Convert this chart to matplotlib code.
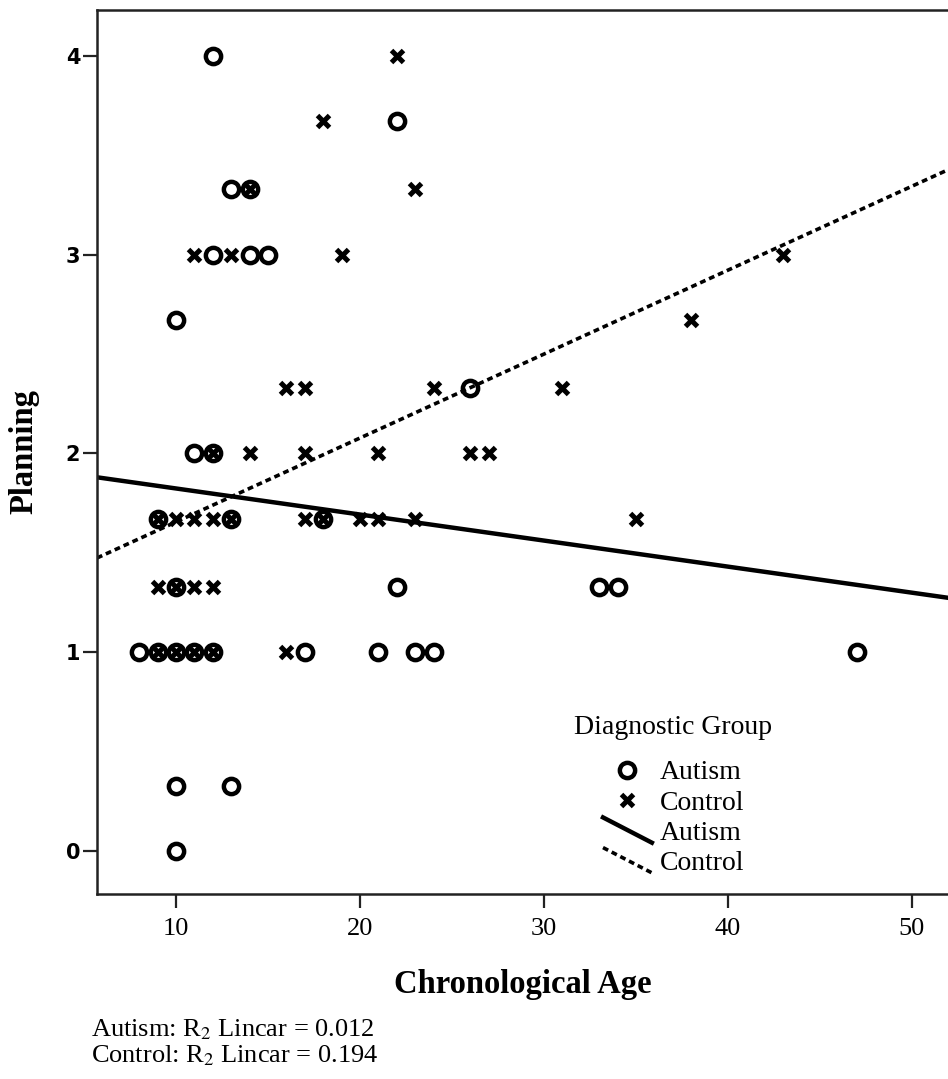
import numpy as np
import matplotlib
matplotlib.use('Agg')
import matplotlib.pyplot as plt
from matplotlib.lines import Line2D
from matplotlib.legend_handler import HandlerBase

# autism group (circles)
autism_age = [12, 22, 13, 14, 12, 14, 15, 10, 26, 11, 12, 9, 13, 18, 10, 22, 33, 34,
              8, 9, 10, 11, 12, 17, 21, 23, 24, 47, 10, 13, 10]
autism_planning = [4, 3.67, 3.33, 3.33, 3, 3, 3, 2.67, 2.33, 2, 2, 1.67, 1.67, 1.67,
                   1.33, 1.33, 1.33, 1.33, 1, 1, 1, 1, 1, 1, 1, 1, 1, 1, 0.33, 0.33, 0]

# control group (crosses)
control_age = [22, 18, 23, 14, 11, 13, 19, 43, 38, 16, 17, 24, 31, 12, 14, 17, 21, 26, 27,
               9, 10, 11, 12, 13, 17, 18, 20, 21, 23, 35, 9, 10, 11, 12, 9, 10, 11, 12, 16]
control_planning = [4, 3.67, 3.33, 3.33, 3, 3, 3, 3, 2.67, 2.33, 2.33, 2.33, 2.33,
                    2, 2, 2, 2, 2, 2, 1.67, 1.67, 1.67, 1.67, 1.67, 1.67, 1.67, 1.67,
                    1.67, 1.67, 1.67, 1.33, 1.33, 1.33, 1.33, 1, 1, 1, 1, 1]

# linear fits (intercept, slope)
autism_fit = (1.955, -0.0131)
control_fit = (1.234, 0.0422)
r2_text = ['Autism: R$_2$ Lincar = 0.012', 'Control: R$_2$ Lincar = 0.194']

serif = 'Liberation Serif'
plt.rcParams['mathtext.fontset'] = 'stix'
DOTS = (0, (1.6, 1.1))

class SlantHandler(HandlerBase):
    def __init__(self, ls):
        super().__init__()
        self.ls = ls

    def create_artists(self, legend, orig_handle, xdescent, ydescent, width, height, fontsize, trans):
        ln = Line2D([-xdescent, width - xdescent], [height * 1.15 - ydescent, -0.15 * height - ydescent],
                    color='black', lw=orig_handle.get_linewidth(), linestyle=self.ls, transform=trans)
        return [ln]

fig = plt.figure(figsize=(9.48, 10.79), dpi=100)
ax = fig.add_axes([0.1023, 0.1715, 0.8977, 0.8192])

ax.plot(autism_age, autism_planning, 'o', ms=11, mfc='none', mec='black', mew=3.2, zorder=3)
ax.plot(control_age, control_planning, 'x', ms=9, mec='black', mew=3.6, zorder=3)

ax.set_xlim(5.7, 51.96)
ax.set_ylim(-0.215, 4.23)
xx = np.array(ax.get_xlim())
ax.plot(xx, autism_fit[0] + autism_fit[1] * xx, color='black', lw=3.2, zorder=2)
ax.plot(xx, control_fit[0] + control_fit[1] * xx, color='black', lw=2.6, linestyle=DOTS, zorder=2)

ax.spines['right'].set_visible(False)
for s in ['left', 'bottom', 'top']:
    ax.spines[s].set_linewidth(1.8)
    ax.spines[s].set_color('#222222')

ax.set_xticks([10, 20, 30, 40, 50])
ax.set_yticks([0, 1, 2, 3, 4])
ax.tick_params(axis='both', direction='out', length=10, width=1.6, color='#222222')
for t in ax.get_xticklabels():
    t.set_fontfamily(serif)
    t.set_fontsize(19)
for t in ax.get_yticklabels():
    t.set_fontfamily('DejaVu Sans')
    t.set_fontweight('bold')
    t.set_fontsize(15)
ax.tick_params(axis='x', pad=7)
ax.tick_params(axis='y', pad=2)

ax.set_xlabel('Chronological Age', fontfamily=serif, fontweight='bold', fontsize=23.5)
ax.set_ylabel('Planning', fontfamily=serif, fontweight='bold', fontsize=23.5)
ax.xaxis.set_label_coords(0.5, -0.085)
ax.yaxis.set_label_coords(-0.068, 0.5)

h_aut = Line2D([], [], marker='o', ls='none', ms=11, mfc='none', mec='black', mew=3.2)
h_con = Line2D([], [], marker='x', ls='none', ms=9, mec='black', mew=3.6)
l_aut = Line2D([], [], color='black', lw=3.2)
l_con = Line2D([], [], color='black', lw=2.6)
leg = fig.legend([h_aut, h_con, l_aut, l_con], ['Autism', 'Control', 'Autism', 'Control'],
                 loc='upper left', bbox_to_anchor=(603 / 948, 1 - 760 / 1079),
                 frameon=False, prop={'family': serif, 'size': 20},
                 borderpad=0, borderaxespad=0,
                 handlelength=1.76, handletextpad=0.29, labelspacing=0.17,
                 handler_map={l_aut: SlantHandler('-'), l_con: SlantHandler(DOTS)})
fig.text(673 / 948, 1 - 728 / 1079, 'Diagnostic Group', fontfamily=serif, fontsize=20,
         ha='center', va='center')

fig.text(0.096, 1 - 1036 / 1079, r2_text[0], fontfamily=serif, fontsize=19, va='baseline')
fig.text(0.096, 1 - 1062 / 1079, r2_text[1], fontfamily=serif, fontsize=19, va='baseline')

fig.savefig('out.png', dpi=100)
